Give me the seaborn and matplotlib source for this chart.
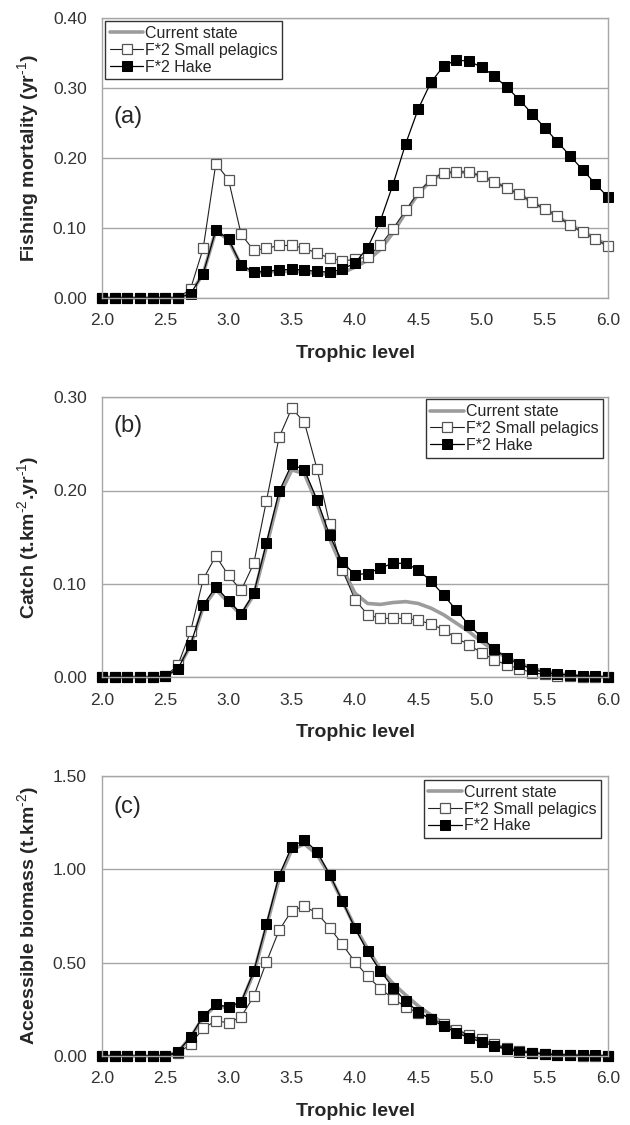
import seaborn as sns
import matplotlib.pyplot as plt
import numpy as np

# trophic levels (x)
trophic = [2.0, 2.1, 2.2, 2.3, 2.4, 2.5, 2.6, 2.7, 2.8, 2.9,
           3.0, 3.1, 3.2, 3.3, 3.4, 3.5, 3.6, 3.7, 3.8, 3.9,
           4.0, 4.1, 4.2, 4.3, 4.4, 4.5, 4.6, 4.7, 4.8, 4.9,
           5.0, 5.1, 5.2, 5.3, 5.4, 5.5, 5.6, 5.7, 5.8, 5.9, 6.0]

series_names = ['Current state', 'F*2 Small pelagics', 'F*2 Hake']

# (a) fishing mortality
fm_current = [0, 0, 0, 0, 0, 0, 0, 0.006, 0.035, 0.096, 0.083, 0.046, 0.036, 0.037, 0.038, 0.038, 0.037,
              0.035, 0.034, 0.036, 0.044, 0.054, 0.069, 0.093, 0.122, 0.149, 0.168, 0.178, 0.180, 0.179,
              0.174, 0.166, 0.157, 0.148, 0.137, 0.127, 0.117, 0.105, 0.095, 0.085, 0.075]
fm_small = [0, 0, 0, 0, 0, 0, 0, 0.013, 0.071, 0.192, 0.169, 0.091, 0.068, 0.071, 0.075, 0.075, 0.071,
            0.064, 0.057, 0.053, 0.055, 0.059, 0.075, 0.099, 0.125, 0.151, 0.169, 0.179, 0.180, 0.180,
            0.174, 0.166, 0.157, 0.148, 0.137, 0.127, 0.117, 0.104, 0.094, 0.084, 0.074]
fm_hake = [0, 0, 0, 0, 0, 0, 0, 0.006, 0.035, 0.097, 0.084, 0.047, 0.037, 0.038, 0.040, 0.041, 0.040,
           0.038, 0.037, 0.041, 0.050, 0.072, 0.110, 0.162, 0.220, 0.270, 0.308, 0.331, 0.340, 0.338,
           0.330, 0.317, 0.301, 0.283, 0.263, 0.243, 0.223, 0.203, 0.183, 0.163, 0.144]

# (b) catch
catch_current = [0, 0, 0, 0, 0, 0.001, 0.009, 0.034, 0.075, 0.094, 0.080, 0.067, 0.088, 0.140, 0.194,
                 0.222, 0.218, 0.186, 0.148, 0.117, 0.090, 0.079, 0.078, 0.080, 0.081, 0.079, 0.074,
                 0.067, 0.058, 0.049, 0.038, 0.029, 0.021, 0.015, 0.010, 0.006, 0.004, 0.002, 0.001,
                 0.0005, 0.0]
catch_small = [0, 0, 0, 0, 0, 0.001, 0.013, 0.049, 0.105, 0.130, 0.109, 0.093, 0.122, 0.189, 0.257,
               0.288, 0.273, 0.223, 0.164, 0.115, 0.083, 0.067, 0.063, 0.063, 0.063, 0.061, 0.057,
               0.051, 0.042, 0.035, 0.026, 0.019, 0.013, 0.009, 0.005, 0.003, 0.0015, 0.001, 0.0005,
               0.0003, 0.0]
catch_hake = [0, 0, 0, 0, 0, 0.001, 0.009, 0.035, 0.077, 0.097, 0.082, 0.068, 0.090, 0.144, 0.199,
              0.228, 0.222, 0.190, 0.152, 0.123, 0.110, 0.111, 0.117, 0.122, 0.122, 0.115, 0.103,
              0.088, 0.072, 0.056, 0.043, 0.030, 0.021, 0.014, 0.009, 0.005, 0.0035, 0.0025, 0.0015,
              0.001, 0.0005]

# (c) accessible biomass
bio_current = [0, 0, 0, 0, 0, 0, 0.022, 0.100, 0.208, 0.270, 0.258, 0.285, 0.445, 0.695, 0.950,
               1.105, 1.135, 1.080, 0.965, 0.830, 0.690, 0.575, 0.465, 0.389, 0.327, 0.268, 0.220,
               0.175, 0.139, 0.107, 0.082, 0.059, 0.041, 0.027, 0.018, 0.011, 0.007, 0.004, 0.002,
               0.001, 0.0]
bio_small = [0, 0, 0, 0, 0, 0, 0.014, 0.064, 0.148, 0.189, 0.178, 0.210, 0.320, 0.504, 0.673,
             0.779, 0.802, 0.765, 0.687, 0.598, 0.504, 0.427, 0.361, 0.308, 0.263, 0.231, 0.201,
             0.171, 0.142, 0.112, 0.089, 0.064, 0.041, 0.027, 0.018, 0.011, 0.007, 0.004, 0.002,
             0.001, 0.0]
bio_hake = [0, 0, 0, 0, 0, 0, 0.023, 0.103, 0.214, 0.276, 0.263, 0.290, 0.454, 0.708, 0.966,
            1.121, 1.157, 1.094, 0.972, 0.829, 0.685, 0.560, 0.456, 0.367, 0.295, 0.237, 0.196,
            0.160, 0.126, 0.098, 0.075, 0.055, 0.036, 0.023, 0.018, 0.011, 0.007, 0.005, 0.004,
            0.003, 0.002]

x_ticks = [2.0, 2.5, 3.0, 3.5, 4.0, 4.5, 5.0, 5.5, 6.0]

panels = [
    dict(tag='(a)', ylabel='Fishing mortality (yr$^{\\text{-}1}$)', ymax=0.40, ystep=0.10,
         data=[fm_current, fm_small, fm_hake], leg_loc='upper left', leg_anchor=(0.006, 0.989),
         tag_y=0.646),
    dict(tag='(b)', ylabel='Catch (t.km$^{\\text{-}2}$.yr$^{\\text{-}1}$)', ymax=0.30, ystep=0.10,
         data=[catch_current, catch_small, catch_hake], leg_loc='upper right',
         leg_anchor=(0.990, 0.992), tag_y=0.896),
    dict(tag='(c)', ylabel='Accessible biomass (t.km$^{\\text{-}2}$)', ymax=1.50, ystep=0.50,
         data=[bio_current, bio_small, bio_hake], leg_loc='upper right',
         leg_anchor=(0.986, 0.986), tag_y=0.89),
]

sns.set_style('white')
plt.rcParams['font.family'] = ['Liberation Sans', 'DejaVu Sans']
plt.rcParams['mathtext.fontset'] = 'custom'
plt.rcParams['mathtext.rm'] = 'Liberation Sans'
plt.rcParams['mathtext.bf'] = 'Liberation Sans:bold'

fig = plt.figure(figsize=(6.3, 11.25), dpi=100)
bottoms = [0.7351, 0.3980, 0.0613]
grid_col = '#a6a6a6'

for p, b in zip(panels, bottoms):
    ax = fig.add_axes([0.1619, b, 0.8032, 0.249])
    cur, small, hake = p['data']
    sns.lineplot(x=trophic, y=cur, ax=ax, color='#9c9c9c', lw=2.6, label=series_names[0],
                 solid_capstyle='round', clip_on=False)
    sns.lineplot(x=trophic, y=small, ax=ax, color='#222222', lw=0.8, marker='s', markersize=6.5,
                 markerfacecolor='white', markeredgecolor='#555555', markeredgewidth=0.9,
                 label=series_names[1], clip_on=False)
    sns.lineplot(x=trophic, y=hake, ax=ax, color='black', lw=0.9, marker='s', markersize=6.5,
                 markerfacecolor='black', markeredgecolor='black', label=series_names[2],
                 clip_on=False)

    ax.set_xlim(2.0, 6.0)
    ax.set_ylim(0, p['ymax'])
    ax.set_xticks(x_ticks)
    ax.set_xticklabels([f'{v:.1f}' for v in x_ticks])
    yt = np.arange(0, p['ymax'] + 1e-9, p['ystep'])
    ax.set_yticks(yt)
    ax.set_yticklabels([f'{v:.2f}' for v in yt])
    ax.tick_params(axis='both', length=0, labelsize=12.5, colors='#333333')
    ax.tick_params(axis='x', pad=11)
    ax.tick_params(axis='y', pad=11)
    ax.yaxis.grid(True, color=grid_col, lw=1)
    ax.xaxis.grid(False)
    ax.set_axisbelow(True)
    for s in ax.spines.values():
        s.set_color(grid_col)
        s.set_linewidth(1)

    ax.set_xlabel('Trophic level', fontsize=14, fontweight='bold', labelpad=12)
    ax.set_ylabel(p['ylabel'], fontsize=14, fontweight='bold', labelpad=8)
    ax.text(0.022, p['tag_y'], p['tag'], transform=ax.transAxes, fontsize=17,
            va='center', ha='left')

    leg = ax.legend(loc=p['leg_loc'], bbox_to_anchor=p['leg_anchor'], borderaxespad=0,
                    fontsize=11.5, frameon=True, fancybox=False, framealpha=1,
                    edgecolor='#333333', handlelength=2.1, handletextpad=0.1,
                    labelspacing=0.12, borderpad=0.3, numpoints=1)
    leg.get_frame().set_linewidth(1)

fig.savefig('out.png', dpi=100, facecolor='white')
